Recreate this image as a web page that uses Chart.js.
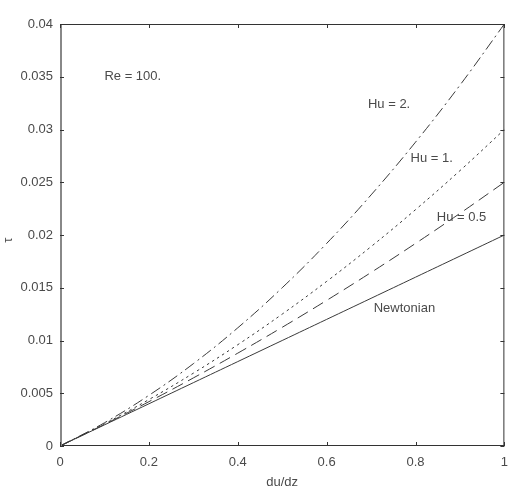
<!DOCTYPE html>
<html>
<head>
<meta charset="utf-8">
<script src="https://cdn.jsdelivr.net/npm/chart.js@4.4.0/dist/chart.umd.min.js"></script>
<style>
    html, body { margin: 0; padding: 0; background: #fff; }
    #box { width: 517px; height: 486px; }
</style>
</head>
<body>
<div id="box"><canvas id="chart"></canvas></div>
<script>
// shear rate values (du/dz)
const rates = [0, 0.1, 0.2, 0.3, 0.4, 0.5, 0.6, 0.7, 0.8, 0.9, 1];

// stress tau
const newtonian = [0, 0.002, 0.004, 0.006, 0.008, 0.010, 0.012, 0.014, 0.016, 0.018, 0.020];
const hu05 = [0, 0.00205, 0.0042, 0.00645, 0.0088, 0.01125, 0.0138, 0.01645, 0.0192, 0.02205, 0.025];
const hu1 = [0, 0.0021, 0.0044, 0.0069, 0.0096, 0.0125, 0.0156, 0.0189, 0.0224, 0.0261, 0.030];
const hu2 = [0, 0.0022, 0.0048, 0.0078, 0.0112, 0.0150, 0.0192, 0.0238, 0.0288, 0.0342, 0.040];

const xTicks = [0, 0.2, 0.4, 0.6, 0.8, 1];
const yTicks = [0, 0.005, 0.01, 0.015, 0.02, 0.025, 0.03, 0.035, 0.04];

// text in the plot: [text, x, y]
const notes = [
    ['Re = 100.', 0.1, 0.035],
    ['Hu = 2.', 0.693, 0.0324],
    ['Hu = 1.', 0.789, 0.0273],
    ['Hu = 0.5', 0.848, 0.0217],
    ['Newtonian', 0.706, 0.0130]
];

const FONT = '13px "Liberation Sans", Arial, sans-serif';
const TEXT = '#4a4a4a';
const LINE = '#3a3a3a';

function toPoints(ys) {
    return rates.map((x, i) => ({x: x, y: ys[i]}));
}

function line(ys, dash) {
    return {
        data: toPoints(ys),
        borderColor: LINE,
        borderWidth: 1,
        borderDash: dash,
        pointRadius: 0,
        tension: 0.4,
        fill: false
    };
}

// box, inward ticks and the labels
const decor = {
    id: 'decor',
    afterDraw(chart) {
        const ctx = chart.ctx;
        const a = chart.chartArea;
        const xs = chart.scales.x;
        const ys = chart.scales.y;
        ctx.save();

        ctx.strokeStyle = '#333';
        ctx.lineWidth = 1;
        ctx.beginPath();
        ctx.moveTo(a.left, a.top + 0.5);
        ctx.lineTo(a.right, a.top + 0.5);
        ctx.moveTo(a.right - 0.5, a.top);
        ctx.lineTo(a.right - 0.5, a.bottom);
        ctx.moveTo(a.left, a.bottom - 0.5);
        ctx.lineTo(a.right, a.bottom - 0.5);
        ctx.stroke();

        ctx.strokeStyle = '#888';
        ctx.lineWidth = 2;
        ctx.beginPath();
        ctx.moveTo(a.left + 1, a.top);
        ctx.lineTo(a.left + 1, a.bottom);
        ctx.stroke();

        ctx.strokeStyle = '#333';
        ctx.lineWidth = 1;
        ctx.beginPath();
        xTicks.forEach(v => {
            const px = Math.round(xs.getPixelForValue(v)) + 0.5;
            ctx.moveTo(px, a.bottom);
            ctx.lineTo(px, a.bottom - 4);
            ctx.moveTo(px, a.top);
            ctx.lineTo(px, a.top + 4);
        });
        yTicks.forEach(v => {
            const py = Math.round(ys.getPixelForValue(v)) + 0.5;
            ctx.moveTo(a.left, py);
            ctx.lineTo(a.left + 4, py);
            ctx.moveTo(a.right, py);
            ctx.lineTo(a.right - 4, py);
        });
        ctx.stroke();

        ctx.fillStyle = TEXT;
        ctx.font = FONT;
        ctx.textAlign = 'left';
        ctx.textBaseline = 'middle';
        notes.forEach(n => {
            ctx.fillText(n[0], xs.getPixelForValue(n[1]), ys.getPixelForValue(n[2]));
        });

        // axis titles
        ctx.textAlign = 'center';
        ctx.fillText('du/dz', (a.left + a.right) / 2, a.bottom + 36);
        ctx.translate(8, ys.getPixelForValue(0.0195));
        ctx.rotate(-Math.PI / 2);
        ctx.fillText('τ', 0, 0);

        ctx.restore();
    }
};

new Chart(document.getElementById('chart'), {
    type: 'line',
    data: {
        datasets: [
            line(newtonian, []),
            line(hu05, [12, 6]),
            line(hu1, [2.5, 3.5]),
            line(hu2, [11, 4, 2, 4])
        ]
    },
    options: {
        responsive: true,
        maintainAspectRatio: false,
        animation: false,
        layout: {padding: {top: 24, right: 11, left: 0, bottom: 0}},
        plugins: {legend: {display: false}, tooltip: {enabled: false}},
        scales: {
            x: {
                type: 'linear',
                min: 0,
                max: 1,
                afterFit(scale) { scale.height = 40; },
                afterBuildTicks(scale) { scale.ticks = xTicks.map(v => ({value: v})); },
                grid: {display: false, drawTicks: false},
                border: {display: false},
                ticks: {
                    padding: 9,
                    color: TEXT,
                    font: {family: '"Liberation Sans", Arial, sans-serif', size: 13},
                    callback: v => String(+v.toFixed(1))
                }
            },
            y: {
                type: 'linear',
                min: 0,
                max: 0.04,
                afterFit(scale) { scale.width = 60; },
                afterBuildTicks(scale) { scale.ticks = yTicks.map(v => ({value: v})); },
                grid: {display: false, drawTicks: false},
                border: {display: false},
                ticks: {
                    padding: 7,
                    color: TEXT,
                    font: {family: '"Liberation Sans", Arial, sans-serif', size: 13},
                    callback: v => String(+v.toFixed(3))
                }
            }
        }
    },
    plugins: [decor]
});
</script>
</body>
</html>
